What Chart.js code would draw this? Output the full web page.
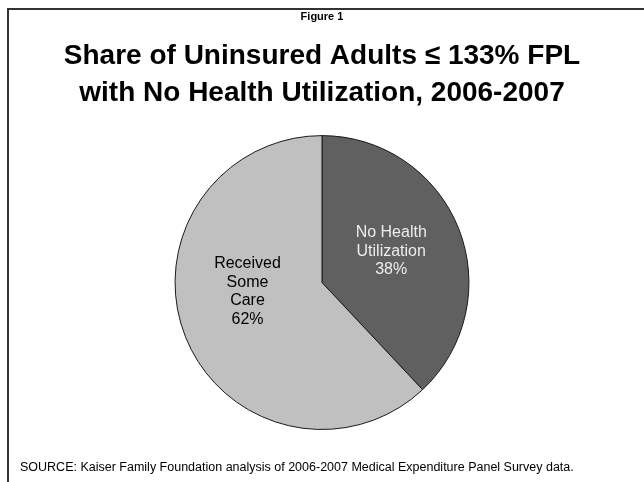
<!DOCTYPE html>
<html>
<head>
<meta charset="utf-8">
<script src="https://cdn.jsdelivr.net/npm/chart.js@4.4.1/dist/chart.umd.min.js"></script>
<style>
  html, body { margin: 0; padding: 0; background: #fff; overflow: hidden; }
  #wrap { position: relative; width: 644px; height: 482px; }
  #frame { position: absolute; left: 7px; top: 8px; width: 700px; height: 600px;
           border-left: 2px solid #333; border-top: 2px solid #333; }
  canvas { position: absolute; left: 0; top: 0; }
</style>
</head>
<body>
<div id="wrap">
  <div id="frame"></div>
  <canvas id="pieChart" width="644" height="482"></canvas>
</div>
<script>
// 데이터
const categories = ['No Health Utilization', 'Received Some Care'];
const shares = [38, 62];
const sliceText = [
  ['No Health', 'Utilization', '38%'],
  ['Received', 'Some', 'Care', '62%']
];
const sourceNote = 'SOURCE: Kaiser Family Foundation analysis of 2006-2007 Medical Expenditure Panel Survey data.';

Chart.defaults.font.family = 'Arial, "Liberation Sans", sans-serif';

// 조각 안의 글자
const sliceLabels = {
  id: 'sliceLabels',
  afterDatasetsDraw(chart) {
    const ctx = chart.ctx;
    const arcs = chart.getDatasetMeta(0).data;
    const nudge = [{ a: -0.06, r: 0.52 }, { a: 0.27, r: 0.51 }];
    const colors = ['#ececec', '#000'];
    ctx.save();
    ctx.font = '16px Arial, "Liberation Sans", sans-serif';
    ctx.textAlign = 'center';
    ctx.textBaseline = 'middle';
    arcs.forEach((arc, i) => {
      const mid = (arc.startAngle + arc.endAngle) / 2 + nudge[i].a;
      const r = arc.outerRadius * nudge[i].r;
      const cx = arc.x + Math.cos(mid) * r;
      const cy = arc.y + Math.sin(mid) * r;
      const lines = sliceText[i];
      const lh = 18.5;
      ctx.fillStyle = colors[i];
      lines.forEach((t, k) => {
        ctx.fillText(t, cx, cy + 1 + (k - (lines.length - 1) / 2) * lh);
      });
    });
    ctx.restore();
  }
};

// 출처
const footNote = {
  id: 'footNote',
  afterDraw(chart) {
    const ctx = chart.ctx;
    ctx.save();
    ctx.font = '12.5px Arial, "Liberation Sans", sans-serif';
    ctx.fillStyle = '#000';
    ctx.textBaseline = 'middle';
    ctx.fillText(sourceNote, 20, 468);
    ctx.restore();
  }
};

const config = {
  type: 'pie',
  data: {
    labels: categories,
    datasets: [{
      data: shares,
      backgroundColor: ['#606060', '#c0c0c0'],
      borderColor: '#1a1a1a',
      borderWidth: 1
    }]
  },
  options: {
    responsive: false,
    animation: false,
    layout: { padding: { top: 4, bottom: 52, left: 0, right: 0 } },
    plugins: {
      legend: { display: false },
      tooltip: { enabled: false },
      title: {
        display: true,
        text: 'Figure 1',
        color: '#000',
        font: { size: 11, weight: 'bold' },
        padding: { top: 6, bottom: 8 }
      },
      subtitle: {
        display: true,
        text: ['Share of Uninsured Adults \u2264 133% FPL', 'with No Health Utilization, 2006-2007'],
        color: '#000',
        font: { size: 28, weight: 'bold', lineHeight: 1.32 },
        padding: { top: 7, bottom: 23 }
      }
    }
  },
  plugins: [sliceLabels, footNote]
};

var myChart = new Chart(document.getElementById('pieChart'), config);
</script>
</body>
</html>
